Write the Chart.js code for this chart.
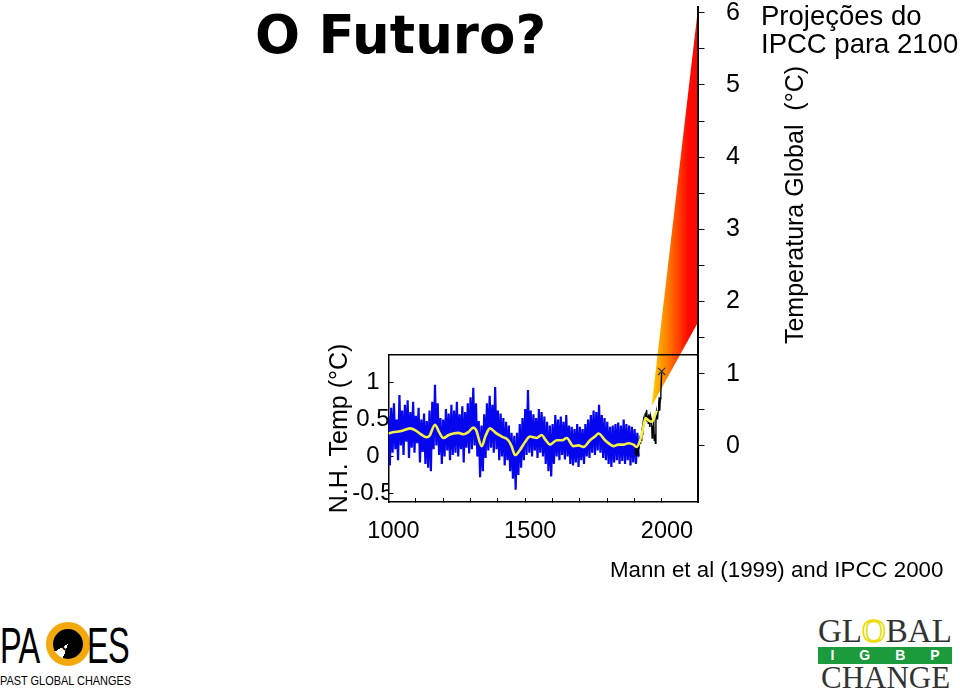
<!DOCTYPE html>
<html><head><meta charset="utf-8">
<script src="https://cdn.jsdelivr.net/npm/chart.js@4.4.1/dist/chart.umd.min.js"></script>
<style>
html,body{margin:0;padding:0;background:#fff;width:960px;height:691px;overflow:hidden;font-family:'Liberation Sans',Arial,sans-serif;color:#000}
canvas{position:absolute;left:0;top:0}
#fanCanvas{z-index:1}
#mainCanvas{z-index:2}
.t{position:absolute;white-space:nowrap;z-index:3}
</style></head><body>
<canvas id="fanCanvas" width="960" height="560"></canvas>
<canvas id="mainCanvas" width="960" height="560"></canvas>

<div class="t" style="left:255px;top:8px;font:bold 53px 'DejaVu Sans',sans-serif;line-height:53px">O Futuro?</div>
<div class="t" style="left:761px;top:2px;font-size:27.5px;line-height:28.3px">Projeções do<br>IPCC para 2100</div>
<div class="t" style="left:634px;top:190px;width:320px;height:30px;line-height:30px;font-size:25px;text-align:center;transform:rotate(-90deg);transform-origin:50% 50%">Temperatura Global&nbsp; (°C)</div>
<div class="t" style="left:610px;top:557px;font-size:22.3px;line-height:25px">Mann et al (1999) and IPCC 2000</div>

<!-- PAGES logo -->
<div class="t" style="left:0;top:621px;font-size:50px;line-height:50px;transform:scaleX(0.65);transform-origin:0 0;letter-spacing:-1px">PA</div>
<div class="t" style="left:46px;top:622px;width:30px;height:30px;border:7px solid #f3a80c;border-radius:50%;background:conic-gradient(from 200deg,#fff 0 40deg,#000 40deg 360deg);color:#000;font-size:20px;line-height:30px;text-align:center">G</div>
<div class="t" style="left:87px;top:621px;font-size:50px;line-height:50px;transform:scaleX(0.65);transform-origin:0 0;letter-spacing:-1px">ES</div>
<div class="t" style="left:0;top:674px;font-size:13.5px;line-height:13.5px;transform:scaleX(0.81);transform-origin:0 0">PAST GLOBAL CHANGES</div>

<!-- GLOBAL IGBP CHANGE logo -->
<div class="t" style="left:818px;top:615px;font-family:'Liberation Serif',serif;font-size:33px;line-height:33px;color:#333">GL<span style="color:transparent;-webkit-text-stroke:1.6px #e8dc00">O</span>BAL</div>
<div class="t" style="left:818px;top:647px;width:134px;height:17px;background:#1c9b3c;color:#fff;font-weight:bold;font-size:14px;line-height:17px;display:flex;justify-content:space-around">
<span>I</span><span>G</span><span>B</span><span>P</span></div>
<div class="t" style="left:821px;top:662px;font-family:'Liberation Serif',serif;font-size:31px;line-height:31px;color:#333">CHANGE</div>

<script>
// ---------------- data ----------------
const yearMin = 1000, yearMax = 2130;

// N.H. temperature reconstruction (blue), one value every 5 years from 1000
const blueStartYear = 1000, blueStepYears = 5;
const blueTemps = [
 0.55,-0.12,0.66,0.05,0.72,0.10,0.50,-0.05,0.83,0.15,
 0.62,0.02,0.70,0.20,0.76,-0.02,0.60,0.12,0.74,0.05,
 0.55,0.18,0.66,-0.08,0.50,0.06,0.58,-0.10,0.48,-0.15,
 0.62,-0.20,0.74,0.10,0.97,0.15,0.72,0.02,0.52,-0.10,
 0.50,0.00,0.64,0.08,0.58,-0.05,0.70,0.02,0.62,0.05,
 0.74,0.00,0.57,0.10,0.68,-0.08,0.60,0.12,0.72,0.04,
 0.80,0.10,0.93,0.15,0.72,0.00,0.48,-0.28,0.42,-0.20,
 0.57,-0.02,0.72,0.08,0.82,0.12,0.70,0.05,0.94,0.10,
 0.62,-0.05,0.58,0.00,0.52,-0.12,0.47,-0.05,0.42,-0.20,
 0.32,-0.30,0.28,-0.45,0.32,-0.25,0.44,-0.15,0.52,-0.05,
 0.64,0.02,0.90,0.05,0.62,0.00,0.57,0.08,0.52,-0.02,
 0.64,0.05,0.60,0.00,0.54,-0.10,0.47,-0.20,0.42,-0.27,
 0.44,-0.10,0.56,0.00,0.50,-0.05,0.54,0.02,0.47,-0.04,
 0.56,0.00,0.42,-0.10,0.40,-0.12,0.37,-0.08,0.44,-0.14,
 0.40,-0.05,0.37,-0.10,0.44,0.00,0.50,-0.02,0.56,0.05,
 0.62,0.02,0.60,0.08,0.70,0.05,0.56,-0.02,0.52,-0.05,
 0.47,-0.10,0.40,-0.14,0.42,-0.08,0.44,-0.05,0.46,-0.10,
 0.42,-0.06,0.50,-0.10,0.44,-0.05,0.42,-0.12,0.40,-0.08,
 0.37,-0.10,0.32,0.00
];

// smoothed curve (yellow)
const yellowYears = [1000,1020,1042,1060,1079,1100,1115,1140,1150,1170,1185,1201,1220,1237,1255,1274,1292,1310,1320,1341,1355,1371,1392,1414,1438,1450,1463,1481,1500,1518,1530,1542,1560,1575,1591,1615,1635,1652,1676,1695,1713,1737,1755,1768,1792,1808,1823,1840,1859,1878,1896,1908,1920,1932,1940,1950,1963,1975,1981];
const yellowTemps = [0.31,0.33,0.34,0.36,0.38,0.35,0.31,0.26,0.28,0.43,0.33,0.25,0.29,0.31,0.32,0.30,0.33,0.39,0.36,0.14,0.28,0.38,0.32,0.27,0.22,0.14,0.02,0.09,0.20,0.27,0.26,0.25,0.29,0.22,0.16,0.22,0.22,0.25,0.14,0.15,0.13,0.22,0.27,0.31,0.22,0.17,0.14,0.16,0.16,0.18,0.16,0.13,0.22,0.40,0.52,0.49,0.47,0.56,0.62];

// instrumental record (black)
const instYears = [1902,1904,1906,1908,1910,1912,1914,1916,1918,1920,1922,1924,1926,1928,1930,1932,1934,1936,1938,1940,1942,1944,1946,1948,1950,1952,1954,1956,1958,1960,1962,1964,1966,1968,1970,1972,1974,1976,1978,1980,1982,1984,1986,1988,1990,1992,1994,1996,1999];
const instTemps = [0.10,0.02,0.12,0.00,0.08,0.05,0.15,0.10,0.22,0.18,0.28,0.22,0.33,0.30,0.42,0.48,0.40,0.52,0.58,0.50,0.60,0.63,0.48,0.55,0.45,0.57,0.47,0.40,0.55,0.52,0.50,0.25,0.42,0.35,0.50,0.22,0.30,0.18,0.48,0.60,0.55,0.50,0.62,0.72,0.80,0.62,0.78,0.85,1.15];

// marked last value (x)
const markYears = [1999];
const markTemps = [1.15];

// IPCC projection envelope (global temperature, right axis)
const fanYears = [1962, 2130];
const fanUpper = [0.55, 6.0];
const fanLower = [0.55, 1.70];

// axis ticks
const nhTicks = [-0.5, 0, 0.5, 1];
const globalTicks = [0,0.5,1,1.5,2,2.5,3,3.5,4,4.5,5,5.5,6];
const yearTicks = [1000,1100,1200,1300,1400,1500,1600,1700,1800,1900,2000];
const yearLabels = [1000, 1500, 2000];

// --------------- charts ---------------
Chart.defaults.font.family = "'Liberation Sans', Arial, sans-serif";
Chart.defaults.color = '#000';

const pts = (xs, ys) => ys.map((v, i) => ({x: xs[i], y: v}));
const bluePts = blueTemps.map((v, i) => ({x: blueStartYear + i * blueStepYears, y: v}));

function fanGradient(context) {
  const chart = context.chart;
  const xs = chart.scales.x;
  if (!chart.chartArea || !xs) return '#ff4000';
  const xa = xs.getPixelForValue(fanYears[0]);
  const xb = xs.getPixelForValue(fanYears[fanYears.length - 1]);
  const g = chart.ctx.createLinearGradient(xa - 3, 0, xa + 0.8 * (xb - xa), 0);
  g.addColorStop(0, '#ffe800');
  g.addColorStop(0.2, '#ffb400');
  g.addColorStop(0.5, '#ff7800');
  g.addColorStop(0.78, '#ff3a00');
  g.addColorStop(1, '#ff0800');
  return g;
}

// Upper chart: global temperature projections with right axis
new Chart(document.getElementById('fanCanvas'), {
  type: 'line',
  data: {
    datasets: [
      {data: pts(fanYears, fanUpper), borderColor: 'transparent', borderWidth: 0, pointRadius: 0, fill: '+1', backgroundColor: fanGradient},
      {data: pts(fanYears, fanLower), borderColor: 'transparent', borderWidth: 0, pointRadius: 0, fill: false}
    ]
  },
  options: {
    responsive: false, animation: false, devicePixelRatio: 1,
    layout: {padding: {left: 388.5, top: 7, right: 202.5, bottom: 58}},
    plugins: {legend: {display: false}, tooltip: {enabled: false}},
    scales: {
      x: {type: 'linear', min: yearMin, max: yearMax, display: false},
      y: {
        type: 'linear', position: 'right', min: -0.7756, max: 6.080,
        afterBuildTicks: s => { s.ticks = globalTicks.map(v => ({value: v})); },
        afterFit: s => { s.width = 60; s.paddingTop = 0; s.paddingBottom = 0; },
        ticks: {font: {size: 25}, color: '#000', padding: 21.5, autoSkip: false,
                callback: v => Number.isInteger(v) ? String(v) : ''},
        grid: {drawOnChartArea: false, tickLength: 7, color: '#000', lineWidth: 1},
        border: {display: true, color: '#000', width: 2}
      }
    }
  }
});

// Lower chart: N.H. temperature
new Chart(document.getElementById('mainCanvas'), {
  type: 'line',
  data: {
    datasets: [
      {data: pts(markYears, markTemps), showLine: false, pointStyle: 'crossRot', pointRadius: 5, borderColor: '#333', borderWidth: 1.2, backgroundColor: '#333'},
      {data: pts(yellowYears, yellowTemps), borderColor: '#f2ee44', borderWidth: 2.6, pointRadius: 0, cubicInterpolationMode: 'monotone', fill: false},
      {data: pts(instYears, instTemps), borderColor: '#000', borderWidth: 1.4, pointRadius: 0, fill: false},
      {data: bluePts, borderColor: '#0606ee', borderWidth: 2.2, pointRadius: 0, fill: false}
    ]
  },
  options: {
    responsive: false, animation: false, devicePixelRatio: 1,
    layout: {padding: {left: 325.6, top: 355, right: 262.5, bottom: 18}},
    plugins: {legend: {display: false}, tooltip: {enabled: false}},
    scales: {
      x: {
        type: 'linear', position: 'bottom', min: yearMin, max: yearMax,
        afterBuildTicks: s => { s.ticks = yearTicks.map(v => ({value: v})); },
        afterFit: s => { s.height = 40; },
        ticks: {font: {size: 23.5}, color: '#000', padding: 19.2, labelOffset: 5, autoSkip: false, maxRotation: 0,
                callback: v => yearLabels.includes(v) ? String(v) : ''},
        grid: {drawOnChartArea: false, tickLength: -4, color: '#000'},
        border: {display: true, color: '#000', width: 1.5}
      },
      xTop: {
        type: 'linear', position: 'top', min: yearMin, max: yearMax,
        afterFit: s => { s.height = 0; },
        ticks: {display: false},
        grid: {display: false, drawTicks: false, drawOnChartArea: false},
        border: {display: true, color: '#000', width: 1.5}
      },
      y: {
        type: 'linear', position: 'left', min: -0.615, max: 1.372,
        afterBuildTicks: s => { s.ticks = nhTicks.map(v => ({value: v})); },
        afterFit: s => { s.width = 62.9; s.paddingTop = 0; s.paddingBottom = 0; },
        ticks: {font: {size: 24}, color: '#000', padding: 0, crossAlign: 'center', autoSkip: false,
                callback: v => String(v)},
        grid: {drawOnChartArea: false, tickLength: -5, color: '#000'},
        border: {display: true, color: '#000', width: 1.5},
        title: {display: true, text: 'N.H. Temp (°C)', font: {size: 25}, color: '#000', padding: 0}
      }
    }
  }
});
</script>
</body></html>
